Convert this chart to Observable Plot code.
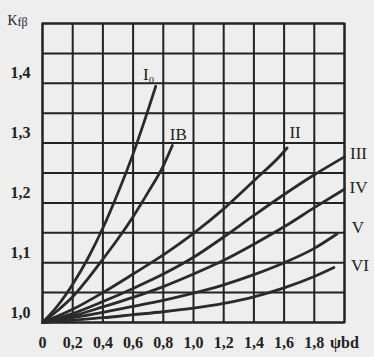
<!DOCTYPE html>
<html><head><meta charset="utf-8">
<script src="https://cdn.jsdelivr.net/npm/d3@7"></script>
<script src="https://cdn.jsdelivr.net/npm/@observablehq/plot@0.6"></script>
<style>
html,body{margin:0;padding:0;background:#eeeeee;}
</style></head><body><div id="chart"></div><script>
// Curve names
const curves = ["I0", "IB", "II", "III", "IV", "V", "VI"];
const curveLabels = ["I\u2080", "IB", "II", "III", "IV", "V", "VI"];

// psi_bd values (x) and K_Fbeta values (y) per curve
const psi_I0 = [0, 0.1, 0.2, 0.3, 0.4, 0.5, 0.6, 0.7, 0.75];
const k_I0   = [1, 1.028, 1.064, 1.107, 1.158, 1.217, 1.282, 1.356, 1.395];

const psi_IB = [0, 0.1, 0.2, 0.3, 0.4, 0.5, 0.6, 0.7, 0.8, 0.86];
const k_IB   = [1, 1.02, 1.043, 1.073, 1.106, 1.14, 1.177, 1.218, 1.262, 1.296];

const psi_II = [0, 0.2, 0.4, 0.6, 0.8, 1.0, 1.2, 1.4, 1.6, 1.62];
const k_II   = [1, 1.022, 1.05, 1.081, 1.113, 1.149, 1.19, 1.237, 1.286, 1.292];

const psi_III = [0, 0.2, 0.4, 0.6, 0.8, 1.0, 1.2, 1.4, 1.6, 1.8, 2.0];
const k_III   = [1, 1.015, 1.035, 1.057, 1.081, 1.109, 1.143, 1.179, 1.214, 1.247, 1.277];

const psi_IV = [0, 0.2, 0.4, 0.6, 0.8, 1.0, 1.2, 1.4, 1.6, 1.8, 2.0];
const k_IV   = [1, 1.011, 1.026, 1.042, 1.06, 1.081, 1.104, 1.131, 1.16, 1.192, 1.223];

const psi_V = [0, 0.2, 0.4, 0.6, 0.8, 1.0, 1.2, 1.4, 1.6, 1.8, 1.95];
const k_V   = [1, 1.008, 1.017, 1.027, 1.037, 1.049, 1.063, 1.08, 1.1, 1.124, 1.148];

const psi_VI = [0, 0.2, 0.4, 0.6, 0.8, 1.0, 1.2, 1.4, 1.6, 1.8, 1.93];
const k_VI   = [1, 1.004, 1.008, 1.013, 1.018, 1.024, 1.032, 1.043, 1.058, 1.077, 1.092];

// Axis ticks and labels
const xTicks = [0, 0.2, 0.4, 0.6, 0.8, 1.0, 1.2, 1.4, 1.6, 1.8, 2.0];
const xTickLabels = ["0", "0,2", "0,4", "0,6", "0,8", "1,0", "1,2", "1,4", "1,6", "1,8", "\u03C8bd"];
const yTicks = [1.0, 1.1, 1.2, 1.3, 1.4];
const yTickLabels = ["1,0", "1,1", "1,2", "1,3", "1,4"];
const gridY = [1.0, 1.05, 1.1, 1.15, 1.2, 1.25, 1.3, 1.35, 1.4, 1.45, 1.5];

// Build table
const seriesX = [psi_I0, psi_IB, psi_II, psi_III, psi_IV, psi_V, psi_VI];
const seriesY = [k_I0, k_IB, k_II, k_III, k_IV, k_V, k_VI];
const rows = [];
curves.forEach((c, j) => seriesX[j].forEach((p, i) => rows.push({curve: c, psi: p, k: seriesY[j][i]})));
const lastOf = j => [{psi: seriesX[j][seriesX[j].length - 1], k: seriesY[j][seriesY[j].length - 1]}];

const ink = "#222";
const serif = "Liberation Serif, Times New Roman, serif";
const labelOffsets = [[-7, -12], [6, -11], [8, -15], [14, -3], [14, -2], [21, -6], [26, -2]];

const labelMarks = curves.map((c, j) => Plot.text(lastOf(j), {
  x: "psi", y: "k", text: () => curveLabels[j],
  dx: labelOffsets[j][0], dy: labelOffsets[j][1],
  fontSize: 17, fontFamily: serif, fill: ink
}));

const chart = Plot.plot({
  width: 374, height: 357,
  marginLeft: 42, marginRight: 30, marginTop: 23, marginBottom: 35,
  style: {background: "#eeeeee", fontFamily: serif, fontSize: "16px", color: ink},
  x: {domain: [0, 2]},
  y: {domain: [1, 1.5]},
  marks: [
    Plot.gridX(xTicks, {stroke: ink, strokeOpacity: 1, strokeWidth: 2}),
    Plot.gridY(gridY, {stroke: ink, strokeOpacity: 1, strokeWidth: 2}),
    Plot.frame({stroke: ink, strokeWidth: 2}),
    Plot.axisX(xTicks, {tickSize: 0, tickPadding: 14, fontSize: 16, fontFamily: serif, fontWeight: "bold",
      tickFormat: d => xTickLabels[xTicks.indexOf(d)], label: null}),
    Plot.axisY(yTicks, {tickSize: 0, tickPadding: 12, fontSize: 16, fontFamily: serif, fontWeight: "bold", dy: -10,
      tickFormat: d => yTickLabels[yTicks.indexOf(d)], label: null}),
    Plot.line(rows, {x: "psi", y: "k", z: "curve", curve: "monotone-x",
      stroke: "#2a2a2a", strokeWidth: 2.8}),
    ...labelMarks,
    Plot.text(["K"], {frameAnchor: "top-left", text: d => d, dx: -35, dy: -8,
      textAnchor: "start", fontSize: 14, fontFamily: serif, fill: ink}),
    Plot.text(["f\u03B2"], {frameAnchor: "top-left", text: d => d, dx: -25, dy: -6,
      textAnchor: "start", fontSize: 12, fontFamily: serif, fill: ink})
  ]
});
document.getElementById("chart").appendChild(chart);
</script></body></html>
